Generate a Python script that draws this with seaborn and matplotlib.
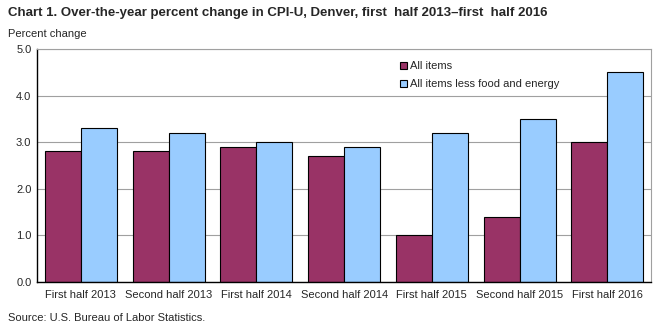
import matplotlib
matplotlib.use("Agg")
import matplotlib.pyplot as plt
import seaborn as sns
import pandas as pd

categories = ["First half 2013", "Second half 2013", "First half 2014", "Second half 2014",
              "First half 2015", "Second half 2015", "First half 2016"]
all_items = [2.8, 2.8, 2.9, 2.7, 1.0, 1.4, 3.0]
core_items = [3.3, 3.2, 3.0, 2.9, 3.2, 3.5, 4.5]
series_names = ["All items", "All items less food and energy"]
colors = ["#993366", "#99CCFF"]

df = pd.DataFrame({
    "cat": categories * 2,
    "val": all_items + core_items,
    "series": [series_names[0]] * len(categories) + [series_names[1]] * len(categories),
})

sns.set_style("white")
plt.rcParams["font.family"] = ["Liberation Sans", "DejaVu Sans"]

fig = plt.figure(figsize=(6.59, 3.26), dpi=100)
ax = fig.add_axes([0.0561, 0.135, 0.932, 0.715])
sns.barplot(data=df, x="cat", y="val", hue="series", palette=colors, width=0.82,
            edgecolor="black", linewidth=0.8, saturation=1, ax=ax, legend=True)

ax.set_ylim(0, 5)
ax.set_yticks([0, 1, 2, 3, 4, 5])
ax.set_yticklabels([f"{v:.1f}" for v in [0, 1, 2, 3, 4, 5]], fontsize=8)
ax.tick_params(axis="x", labelsize=8, length=0, pad=6)
ax.tick_params(axis="y", length=0, pad=4)
ax.set_xlabel("")
ax.set_ylabel("")
ax.yaxis.grid(True, color="#a0a0a0", linewidth=0.8)
ax.set_axisbelow(True)
for s in ["top", "right"]:
    ax.spines[s].set_color("#a0a0a0")
    ax.spines[s].set_linewidth(0.8)
for s in ["left", "bottom"]:
    ax.spines[s].set_color("black")
    ax.spines[s].set_linewidth(1.0)

leg = ax.legend(loc="upper left", bbox_to_anchor=(0.575, 0.99), frameon=False, fontsize=8,
                handlelength=0.6, handleheight=0.6, handletextpad=0.3, labelspacing=0.7)

fig.text(0.012, 0.96, "Chart 1. Over-the-year percent change in CPI-U, Denver, first  half 2013\u2013first  half 2016",
         fontsize=9.5, fontweight="bold", va="center", ha="left",
         family=["Liberation Sans Narrow", "Liberation Sans", "DejaVu Sans"])
fig.text(0.012, 0.895, "Percent change", fontsize=8, va="center", ha="left")
fig.text(0.012, 0.025, "Source: U.S. Bureau of Labor Statistics.", fontsize=8, va="center", ha="left")

fig.savefig("out.png", dpi=100)
